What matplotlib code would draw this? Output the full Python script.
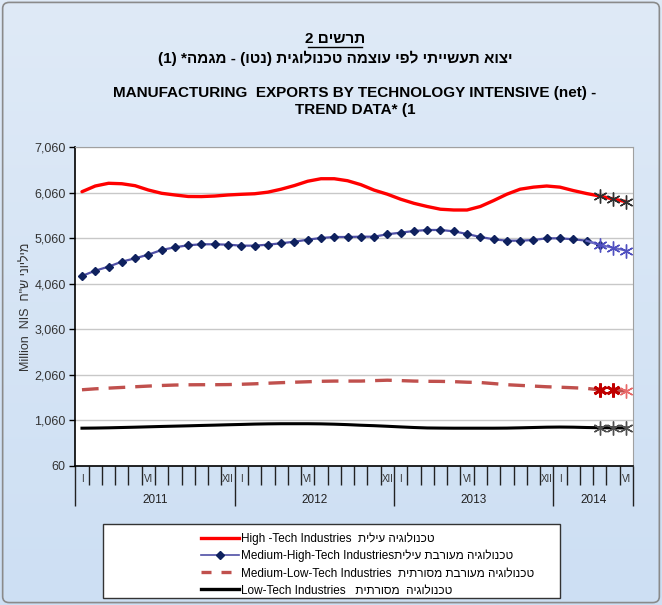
import numpy as np
import matplotlib.pyplot as plt
from matplotlib.patches import Rectangle, FancyBboxPatch
from matplotlib.lines import Line2D
import matplotlib.transforms as mtransforms

plt.rcParams['font.family'] = ['Liberation Sans', 'DejaVu Sans']

def heb(s):
    # matplotlib draws left to right, so hebrew runs are reversed by hand
    return s[::-1]

# monthly data, Jan 2011 - Jun 2014 (last 3 months provisional)
high_tech = [6085, 6210, 6270, 6260, 6217, 6122, 6050, 6013, 5980, 5978, 5990, 6013,
             6028, 6040, 6075, 6140, 6220, 6315, 6370, 6370, 6326, 6240, 6120, 6030,
             5920, 5830, 5760, 5700, 5683, 5683, 5760, 5890, 6030, 6140, 6185, 6210,
             6185, 6110, 6045, 5990, 5925, 5865]
med_high = [4234, 4350, 4438, 4548, 4622, 4702, 4805, 4864, 4908, 4930, 4930, 4921,
            4900, 4900, 4921, 4952, 4987, 5031, 5068, 5090, 5090, 5097, 5097, 5150,
            5185, 5222, 5244, 5244, 5215, 5156, 5090, 5040, 5009, 5009, 5024, 5061,
            5061, 5040, 5009, 4915, 4855, 4790]
med_low = [1734, 1755, 1770, 1785, 1800, 1815, 1828, 1838, 1843, 1845, 1845, 1848,
           1855, 1865, 1878, 1890, 1900, 1910, 1920, 1925, 1925, 1925, 1935, 1944,
           1935, 1925, 1920, 1918, 1912, 1900, 1893, 1870, 1845, 1830, 1815, 1800,
           1790, 1778, 1765, 1730, 1720, 1705]
low_tech = [890, 893, 898, 905, 912, 920, 928, 935, 942, 950, 957, 965,
            972, 980, 985, 988, 988, 988, 985, 978, 968, 955, 945, 932,
            918, 905, 895, 892, 890, 890, 890, 890, 892, 898, 905, 912,
            915, 912, 905, 900, 898, 895]
n_prov = 3

years = ['2011', '2012', '2013', '2014']
month_names = {0: 'I', 5: 'VI', 11: 'XII'}
yticks = [60, 1060, 2060, 3060, 4060, 5060, 6060, 7060]

x = np.arange(len(high_tech))
px = x[-n_prov:]

fig = plt.figure(figsize=(6.62, 6.05), dpi=100)

# background gradient + frame
bg = fig.add_axes([0, 0, 1, 1], zorder=-10)
grad = np.linspace(0, 1, 256).reshape(-1, 1)
bg.imshow(grad, aspect='auto', extent=[0, 1, 0, 1],
          cmap=plt.matplotlib.colors.LinearSegmentedColormap.from_list('b', ['#dfeaf7', '#cddff3']))
bg.set_xlim(0, 1); bg.set_ylim(0, 1)
bg.axis('off')
fig.patches.append(FancyBboxPatch((0.004, 0.004), 0.992, 0.992, boxstyle='round,pad=0,rounding_size=0.01',
                                  transform=fig.transFigure, fill=False, ec='#8a8a8a', lw=1.2))

ax = fig.add_axes([0.1138, 0.2298, 0.8424, 0.5267])
ax.set_facecolor('white')

ax.plot(x, high_tech, color='#ff0000', lw=2.4, solid_capstyle='round')
ax.plot(px, high_tech[-n_prov:], ls='none', marker=(6, 2, 0), ms=10, mec='#303030', mew=1)

ax.plot(x[:-n_prov + 1], med_high[:-n_prov + 1], color='#4f4fa6', lw=1.6,
        marker='D', ms=4.5, mfc='#0f215e', mec='#0f215e')
ax.plot(x[-n_prov - 1:], med_high[-n_prov - 1:], color='#6a6ac4', lw=1.6)
ax.plot(px, med_high[-n_prov:], ls='none', marker=(6, 2, 0), ms=10, mec='#5050c0', mew=1)

ax.plot(x, med_low, color='#c0504d', lw=2.4, dashes=(5, 3))
ax.plot(px[:2], med_low[-n_prov:-1], ls='none', marker=(6, 2, 0), ms=10, mec='#c00000', mew=2)
ax.plot(px[2:], med_low[-1:], ls='none', marker=(6, 2, 0), ms=10, mec='#e86a6a', mew=1)

ax.plot(x, low_tech, color='black', lw=2.2)
ax.plot(px, low_tech[-n_prov:], ls='none', marker=(6, 2, 0), ms=10, mec='#505050', mew=1)

ax.set_ylim(60, 7060)
ax.set_xlim(-0.5, len(x) - 0.5)
ax.set_yticks(yticks)
ax.set_yticklabels(['{:,}'.format(v) for v in yticks], fontsize=9, color='#333333')
ax.yaxis.grid(True, color='#c8c8c8', lw=1)
ax.set_axisbelow(True)
ax.tick_params(axis='y', length=4, width=1, color='black', pad=3)

# x axis: month ticks short, year boundaries long
ax.set_xticks([-0.5, 11.5, 23.5, 35.5, 41.5])
ax.set_xticks(np.arange(-0.5, len(x), 1), minor=True)
ax.set_xticklabels([])
ax.tick_params(axis='x', which='major', length=29, width=1, color='#222222')
ax.tick_params(axis='x', which='minor', length=14, width=1, color='#222222')

for s in ['top', 'right']:
    ax.spines[s].set_color('#a0a0a0')
for s in ['left', 'bottom']:
    ax.spines[s].set_color('black')
    ax.spines[s].set_linewidth(1.2)

trans = mtransforms.blended_transform_factory(ax.transData, ax.transAxes)
for i in x:
    m = i % 12
    if m in month_names:
        ax.text(i, -0.041, month_names[m], transform=trans, ha='center', va='center',
                fontsize=7, color='#333333')
starts = [-0.5, 11.5, 23.5, 35.5, 41.5]
for k, yr in enumerate(years):
    ax.text((starts[k] + starts[k + 1]) / 2, -0.107, yr, transform=trans, ha='center',
            va='center', fontsize=8.5, color='#222222')

ax.set_ylabel('Million  NIS  ' + heb('מיליוני ש"ח'), fontsize=9, color='#333333', labelpad=2)

# titles
fig.text(0.506, 0.9355, '2 ' + heb('תרשים'), ha='center', va='center', fontsize=11, fontweight='bold')
fig.text(0.506, 0.904, '(1) *' + heb('מגמה') + ' - (' + heb('נטו') + ') ' + heb('יצוא תעשייתי לפי עוצמה טכנולוגית'),
         ha='center', va='center', fontsize=11, fontweight='bold')
fig.add_artist(Line2D([0.466, 0.547], [0.922, 0.922], transform=fig.transFigure, color='black', lw=1))
fig.text(0.536, 0.846, 'MANUFACTURING  EXPORTS BY TECHNOLOGY INTENSIVE (net) -',
         ha='center', va='center', fontsize=11, fontweight='bold')
fig.text(0.536, 0.818, 'TREND DATA* (1', ha='center', va='center', fontsize=11, fontweight='bold')

# legend
fig.patches.append(Rectangle((103 / 662, 1 - 598 / 605), 457 / 662, 74 / 605, transform=fig.transFigure,
                             fc='white', ec='#333333', lw=1))
handles = [Line2D([], [], color='#ff0000', lw=2.4),
           Line2D([], [], color='#4f4fa6', lw=1.2, marker='D', ms=4, mfc='#0f215e', mec='#0f215e'),
           Line2D([], [], color='#c0504d', lw=2.4, dashes=(3, 3)),
           Line2D([], [], color='black', lw=2.4)]
labels = ['High -Tech Industries  ' + heb('טכנולוגיה עילית'),
          'Medium-High-Tech Industries' + heb('טכנולוגיה מעורבת עילית'),
          'Medium-Low-Tech Industries  ' + heb('טכנולוגיה מעורבת מסורתית'),
          'Low-Tech Industries   ' + heb('טכנולוגיה  מסורתית')]
fig.legend(handles, labels, loc='upper left', bbox_to_anchor=(193 / 662, 1 - 524 / 605),
           frameon=False, fontsize=8.5, handlelength=3.2, handletextpad=0.2,
           labelspacing=0.42, borderpad=0.2)

fig.savefig('out.png', dpi=100)
